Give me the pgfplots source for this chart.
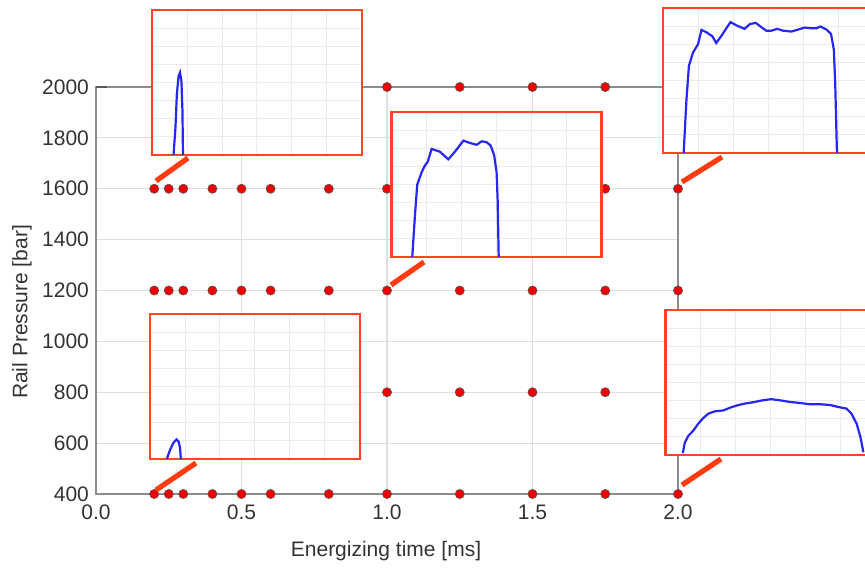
\documentclass[border=0pt]{standalone}
\usepackage{pgfplots}
\pgfplotsset{compat=1.18}
\usepackage{fontspec}
\setmainfont{Liberation Sans}
\definecolor{insetred}{HTML}{FF4422}
\definecolor{conred}{HTML}{FF3C0F}
\definecolor{curveblue}{HTML}{2626F5}
\definecolor{dotred}{HTML}{F00000}
\definecolor{txt}{HTML}{333333}
\pgfplotsset{
  inset/.style={anchor=south west, scale only axis, width=105pt, height=72.5pt,
    xmin=0, xmax=6, ymin=0, ymax=8,
    xtick={0,1,2,3,4,5,6}, ytick={0,1,2,3,4,5,6,7,8},
    xticklabels={}, yticklabels={},
    grid=major, major grid style={draw=black!8, line width=0.5pt},
    tick style={draw=none},
    axis line style={draw=insetred, line width=1.4pt},
    axis background/.style={fill=white}},
  curve/.style={draw=curveblue, line width=1.1pt, no marks}
}
\begin{document}
\begin{tikzpicture}
\clip (0,0) rectangle (432.5pt,283.5pt);
\begin{axis}[at={(48pt,36.5pt)}, anchor=south west, scale only axis,
  width=291pt, height=203.5pt,
  xmin=0, xmax=2, ymin=400, ymax=2000,
  xtick={0,0.5,1,1.5,2}, ytick={400,600,800,1000,1200,1400,1600,1800,2000},
  tick label style={font=\fontsize{10.5}{12}\selectfont, text=txt},
  xticklabel style={yshift=-2pt, /pgf/number format/.cd, fixed, fixed zerofill, precision=1},
  yticklabel style={/pgf/number format/.cd, fixed, 1000 sep={}},
  /pgf/number format/assume math mode=true,
  grid=major, major grid style={draw=black!13, line width=0.6pt},
  axis line style={draw=black!45, line width=0.9pt},
  tick style={draw=none},
  clip=false]
\addplot[only marks, mark=*, mark size=2.3pt, mark options={fill=dotred, draw=black!65, line width=0.3pt}] table {
x y
0.2 400
0.25 400
0.3 400
0.4 400
0.5 400
0.6 400
0.8 400
1.0 400
1.25 400
1.5 400
1.75 400
2.0 400
1.0 800
1.25 800
1.5 800
1.75 800
2.0 800
0.2 1200
0.25 1200
0.3 1200
0.4 1200
0.5 1200
0.6 1200
0.8 1200
1.0 1200
1.25 1200
1.5 1200
1.75 1200
2.0 1200
0.2 1600
0.25 1600
0.3 1600
0.4 1600
0.5 1600
0.6 1600
0.8 1600
1.0 1600
1.25 1600
1.5 1600
1.75 1600
2.0 1600
1.0 2000
1.25 2000
1.5 2000
1.75 2000
2.0 2000
};
\end{axis}
\draw[black!65, line width=1.3pt] (48pt,240pt) -- (53.5pt,240pt);
% inset 1: 0.2 ms, 1600 bar
\begin{axis}[inset, at={(76pt,206pt)}]
\addplot[curve] coordinates {(0.615,0) (0.67,1.5) (0.71,3.35) (0.76,4.36) (0.80,4.55) (0.84,4.09) (0.87,2.43) (0.885,0)};
\end{axis}
% inset 2: 1.0 ms, 1200 bar
\begin{axis}[inset, at={(195.8pt,155pt)}]
\addplot[curve] coordinates {(0.59,0) (0.67,2.38) (0.733,4.0) (0.857,4.67) (0.952,5.05) (1.03,5.24) (1.143,5.96) (1.38,5.81) (1.62,5.39) (1.81,5.81) (2.05,6.42) (2.24,6.29) (2.43,6.19) (2.57,6.38) (2.71,6.34) (2.83,6.15) (2.93,5.62) (3.0,4.67) (3.03,3.14) (3.06,0)};
\end{axis}
% inset 3: 2.0 ms, 1600 bar
\begin{axis}[inset, at={(331.5pt,207pt)}]
\addplot[curve] coordinates {(0.59,0) (0.67,2.94) (0.74,4.8) (0.857,5.54) (1.0,6.0) (1.1,6.79) (1.24,6.66) (1.41,6.44) (1.52,6.07) (1.67,6.47) (1.83,6.94) (1.93,7.22) (2.11,7.03) (2.33,6.85) (2.48,7.11) (2.65,7.18) (2.81,6.94) (2.95,6.75) (3.1,6.75) (3.26,6.85) (3.43,6.75) (3.67,6.70) (3.86,6.81) (4.05,6.92) (4.24,6.88) (4.38,6.88) (4.5,6.98) (4.67,6.81) (4.8,6.57) (4.88,5.73) (4.92,3.87) (4.97,0)};
\end{axis}
% inset 4: 0.2 ms, 400 bar
\begin{axis}[inset, at={(75pt,54pt)}]
\addplot[curve] coordinates {(0.48,0) (0.57,0.49) (0.67,0.9) (0.76,1.08) (0.82,0.95) (0.86,0.58) (0.88,0)};
\end{axis}
% inset 5: 2.0 ms, 400 bar
\begin{axis}[inset, at={(332.8pt,56pt)}]
\addplot[curve] coordinates {(0.49,0.1) (0.55,0.69) (0.65,1.06) (0.79,1.34) (0.93,1.72) (1.08,2.05) (1.22,2.28) (1.41,2.41) (1.65,2.46) (1.84,2.61) (2.05,2.74) (2.27,2.84) (2.5,2.91) (2.78,3.02) (3.02,3.08) (3.26,3.02) (3.54,2.93) (3.84,2.87) (4.12,2.8) (4.41,2.8) (4.7,2.76) (4.93,2.65) (5.17,2.56) (5.31,2.28) (5.46,1.72) (5.57,0.97) (5.65,0.15)};
\end{axis}
% connectors
\begin{scope}[conred, line width=2.6pt]
\draw (78pt,193pt) -- (94pt,204.5pt);
\draw (195.5pt,141pt) -- (212pt,152.5pt);
\draw (341pt,192.5pt) -- (361pt,205pt);
\draw (78pt,38.5pt) -- (98pt,52pt);
\draw (341pt,41pt) -- (360.5pt,54pt);
\end{scope}
% labels
\node[text=txt, font=\fontsize{10.5}{12}\selectfont] at (193pt,8pt) {Energizing time [ms]};
\node[text=txt, font=\fontsize{10.5}{12}\selectfont, rotate=90] at (11pt,127.5pt) {Rail Pressure [bar]};
\end{tikzpicture}
\end{document}
